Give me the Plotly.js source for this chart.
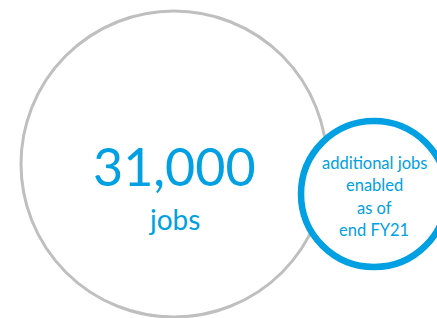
<!DOCTYPE html>
<html>
<head>
<meta charset="utf-8">
<script src="https://cdn.plot.ly/plotly-3.0.1.min.js"></script>
<style>html,body{margin:0;padding:0;background:#fff;}#chart{width:437px;height:318px;}</style>
</head>
<body>
<div id="chart"></div>
<script>
// Data
const jobsValue = [31000];
const unitLabel = ["jobs"];
const noteLines = ["additional jobs", "enabled", "as of", "end FY21"];

const blue = "rgb(0,160,227)";
const grey = "rgb(191,191,191)";
const font = "Lato, 'Open Sans', sans-serif";

const big = {cx: 174, cy: 164, r: 153};
const small = {cx: 374, cy: 194, r: 73};

const shapes = [
  {type: "circle", xref: "x", yref: "y", x0: big.cx - big.r, x1: big.cx + big.r, y0: big.cy - big.r, y1: big.cy + big.r,
   line: {color: grey, width: 3}, fillcolor: "rgba(255,255,255,0)", layer: "above"},
  {type: "circle", xref: "x", yref: "y", x0: small.cx - small.r, x1: small.cx + small.r, y0: small.cy - small.r, y1: small.cy + small.r,
   line: {color: blue, width: 6.5}, fillcolor: "white", layer: "above"}
];

const annotations = [
  {x: big.cx, y: 166, xref: "x", yref: "y", text: jobsValue[0].toLocaleString("en-US"), showarrow: false,
   font: {family: font, size: 52, color: blue}},
  {x: big.cx, y: 219, xref: "x", yref: "y", text: unitLabel[0], showarrow: false,
   font: {family: font, size: 28, color: blue}}
];
noteLines.forEach((t, i) => {
  annotations.push({x: small.cx, y: 163 + i * 22.3, xref: "x", yref: "y", text: t, showarrow: false,
    font: {family: font, size: 16.5, color: blue}});
});

Plotly.newPlot("chart", [{x: [], y: [], type: "scatter", hoverinfo: "skip"}], {
  width: 437, height: 318,
  margin: {l: 0, r: 0, t: 0, b: 0},
  paper_bgcolor: "white", plot_bgcolor: "white",
  showlegend: false,
  xaxis: {range: [0, 437], visible: false, fixedrange: true},
  yaxis: {range: [318, 0], visible: false, fixedrange: true},
  shapes: shapes,
  annotations: annotations
}, {staticPlot: true, displayModeBar: false});
</script>
</body>
</html>
